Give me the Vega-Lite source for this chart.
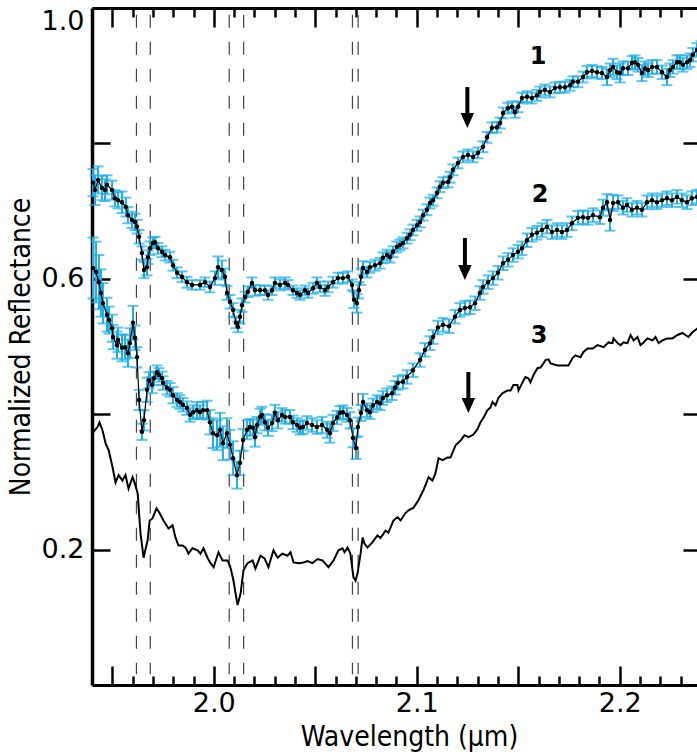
{
  "$schema": "https://vega.github.io/schema/vega-lite/v6.json",
  "width": 609,
  "height": 677,
  "autosize": {"type": "none"},
  "padding": {"left": 92, "top": 8, "right": 0, "bottom": 70},
  "background": "white",
  "config": {
    "view": {"stroke": null},
    "axis": {
      "labelFont": "DejaVu Sans",
      "titleFont": "DejaVu Sans Condensed, DejaVu Sans",
      "labelColor": "black",
      "titleColor": "black",
      "tickColor": "black",
      "domainColor": "black",
      "grid": false,
      "labelOverlap": false
    }
  },
  "datasets": {
    "s12": [
      {"s":1,"w":1.9405,"v":0.742,"e":0.020},{"s":1,"w":1.9415,"v":0.731,"e":0.022},{"s":1,"w":1.9430,"v":0.746,"e":0.020},{"s":1,"w":1.9449,"v":0.734,"e":0.018},{"s":1,"w":1.9464,"v":0.731,"e":0.016},{"s":1,"w":1.9474,"v":0.739,"e":0.014},{"s":1,"w":1.9499,"v":0.731,"e":0.014},{"s":1,"w":1.9513,"v":0.719,"e":0.012},{"s":1,"w":1.9528,"v":0.716,"e":0.012},{"s":1,"w":1.9548,"v":0.713,"e":0.016},{"s":1,"w":1.9567,"v":0.706,"e":0.014},{"s":1,"w":1.9577,"v":0.694,"e":0.012},{"s":1,"w":1.9597,"v":0.687,"e":0.012},{"s":1,"w":1.9612,"v":0.684,"e":0.012},{"s":1,"w":1.9622,"v":0.677,"e":0.010},{"s":1,"w":1.9632,"v":0.662,"e":0.010},{"s":1,"w":1.9646,"v":0.638,"e":0.010},{"s":1,"w":1.9656,"v":0.613,"e":0.012},{"s":1,"w":1.9671,"v":0.617,"e":0.012},{"s":1,"w":1.9676,"v":0.632,"e":0.010},{"s":1,"w":1.9686,"v":0.645,"e":0.010},{"s":1,"w":1.9700,"v":0.653,"e":0.008},{"s":1,"w":1.9710,"v":0.654,"e":0.008},{"s":1,"w":1.9725,"v":0.645,"e":0.008},{"s":1,"w":1.9745,"v":0.640,"e":0.008},{"s":1,"w":1.9760,"v":0.635,"e":0.008},{"s":1,"w":1.9784,"v":0.632,"e":0.008},{"s":1,"w":1.9799,"v":0.620,"e":0.008},{"s":1,"w":1.9819,"v":0.609,"e":0.008},{"s":1,"w":1.9843,"v":0.603,"e":0.008},{"s":1,"w":1.9868,"v":0.595,"e":0.008},{"s":1,"w":1.9893,"v":0.591,"e":0.007},{"s":1,"w":1.9932,"v":0.591,"e":0.007},{"s":1,"w":1.9957,"v":0.595,"e":0.007},{"s":1,"w":1.9981,"v":0.588,"e":0.008},{"s":1,"w":2.0006,"v":0.601,"e":0.010},{"s":1,"w":2.0021,"v":0.617,"e":0.016},{"s":1,"w":2.0040,"v":0.613,"e":0.014},{"s":1,"w":2.0055,"v":0.603,"e":0.012},{"s":1,"w":2.0065,"v":0.579,"e":0.010},{"s":1,"w":2.0080,"v":0.566,"e":0.010},{"s":1,"w":2.0095,"v":0.554,"e":0.010},{"s":1,"w":2.0109,"v":0.535,"e":0.008},{"s":1,"w":2.0119,"v":0.529,"e":0.008},{"s":1,"w":2.0129,"v":0.544,"e":0.010},{"s":1,"w":2.0139,"v":0.561,"e":0.010},{"s":1,"w":2.0154,"v":0.573,"e":0.008},{"s":1,"w":2.0168,"v":0.581,"e":0.008},{"s":1,"w":2.0188,"v":0.594,"e":0.008},{"s":1,"w":2.0203,"v":0.583,"e":0.008},{"s":1,"w":2.0228,"v":0.583,"e":0.007},{"s":1,"w":2.0252,"v":0.583,"e":0.007},{"s":1,"w":2.0267,"v":0.576,"e":0.007},{"s":1,"w":2.0287,"v":0.583,"e":0.007},{"s":1,"w":2.0301,"v":0.594,"e":0.008},{"s":1,"w":2.0326,"v":0.591,"e":0.008},{"s":1,"w":2.0351,"v":0.594,"e":0.008},{"s":1,"w":2.0366,"v":0.591,"e":0.007},{"s":1,"w":2.0390,"v":0.583,"e":0.007},{"s":1,"w":2.0410,"v":0.579,"e":0.007},{"s":1,"w":2.0425,"v":0.576,"e":0.007},{"s":1,"w":2.0449,"v":0.583,"e":0.007},{"s":1,"w":2.0464,"v":0.579,"e":0.007},{"s":1,"w":2.0489,"v":0.586,"e":0.008},{"s":1,"w":2.0508,"v":0.594,"e":0.008},{"s":1,"w":2.0523,"v":0.588,"e":0.008},{"s":1,"w":2.0548,"v":0.583,"e":0.008},{"s":1,"w":2.0563,"v":0.588,"e":0.008},{"s":1,"w":2.0587,"v":0.595,"e":0.008},{"s":1,"w":2.0612,"v":0.601,"e":0.008},{"s":1,"w":2.0636,"v":0.601,"e":0.008},{"s":1,"w":2.0661,"v":0.603,"e":0.008},{"s":1,"w":2.0681,"v":0.591,"e":0.008},{"s":1,"w":2.0691,"v":0.569,"e":0.012},{"s":1,"w":2.0705,"v":0.564,"e":0.014},{"s":1,"w":2.0715,"v":0.583,"e":0.012},{"s":1,"w":2.0725,"v":0.603,"e":0.012},{"s":1,"w":2.0735,"v":0.616,"e":0.010},{"s":1,"w":2.0755,"v":0.610,"e":0.008},{"s":1,"w":2.0769,"v":0.617,"e":0.008},{"s":1,"w":2.0794,"v":0.620,"e":0.008},{"s":1,"w":2.0819,"v":0.623,"e":0.008},{"s":1,"w":2.0833,"v":0.631,"e":0.008},{"s":1,"w":2.0853,"v":0.635,"e":0.008},{"s":1,"w":2.0868,"v":0.632,"e":0.008},{"s":1,"w":2.0883,"v":0.640,"e":0.008},{"s":1,"w":2.0902,"v":0.647,"e":0.008},{"s":1,"w":2.0917,"v":0.650,"e":0.008},{"s":1,"w":2.0932,"v":0.653,"e":0.008},{"s":1,"w":2.0952,"v":0.660,"e":0.008},{"s":1,"w":2.0967,"v":0.665,"e":0.008},{"s":1,"w":2.0981,"v":0.672,"e":0.008},{"s":1,"w":2.1001,"v":0.679,"e":0.008},{"s":1,"w":2.1016,"v":0.684,"e":0.008},{"s":1,"w":2.1031,"v":0.694,"e":0.008},{"s":1,"w":2.1050,"v":0.702,"e":0.008},{"s":1,"w":2.1065,"v":0.712,"e":0.008},{"s":1,"w":2.1080,"v":0.716,"e":0.008},{"s":1,"w":2.1100,"v":0.727,"e":0.008},{"s":1,"w":2.1114,"v":0.736,"e":0.008},{"s":1,"w":2.1129,"v":0.742,"e":0.008},{"s":1,"w":2.1154,"v":0.743,"e":0.008},{"s":1,"w":2.1164,"v":0.750,"e":0.008},{"s":1,"w":2.1178,"v":0.761,"e":0.008},{"s":1,"w":2.1203,"v":0.771,"e":0.008},{"s":1,"w":2.1228,"v":0.780,"e":0.008},{"s":1,"w":2.1252,"v":0.783,"e":0.008},{"s":1,"w":2.1277,"v":0.780,"e":0.008},{"s":1,"w":2.1301,"v":0.786,"e":0.008},{"s":1,"w":2.1326,"v":0.795,"e":0.008},{"s":1,"w":2.1346,"v":0.809,"e":0.008},{"s":1,"w":2.1370,"v":0.823,"e":0.008},{"s":1,"w":2.1395,"v":0.824,"e":0.008},{"s":1,"w":2.1410,"v":0.830,"e":0.008},{"s":1,"w":2.1425,"v":0.845,"e":0.008},{"s":1,"w":2.1449,"v":0.852,"e":0.008},{"s":1,"w":2.1469,"v":0.854,"e":0.008},{"s":1,"w":2.1484,"v":0.846,"e":0.008},{"s":1,"w":2.1499,"v":0.854,"e":0.008},{"s":1,"w":2.1518,"v":0.867,"e":0.008},{"s":1,"w":2.1543,"v":0.869,"e":0.008},{"s":1,"w":2.1567,"v":0.867,"e":0.008},{"s":1,"w":2.1592,"v":0.871,"e":0.008},{"s":1,"w":2.1607,"v":0.876,"e":0.008},{"s":1,"w":2.1631,"v":0.879,"e":0.008},{"s":1,"w":2.1656,"v":0.876,"e":0.008},{"s":1,"w":2.1681,"v":0.882,"e":0.008},{"s":1,"w":2.1705,"v":0.883,"e":0.008},{"s":1,"w":2.1730,"v":0.883,"e":0.008},{"s":1,"w":2.1755,"v":0.886,"e":0.008},{"s":1,"w":2.1769,"v":0.891,"e":0.008},{"s":1,"w":2.1794,"v":0.891,"e":0.008},{"s":1,"w":2.1819,"v":0.898,"e":0.008},{"s":1,"w":2.1838,"v":0.905,"e":0.009},{"s":1,"w":2.1863,"v":0.907,"e":0.009},{"s":1,"w":2.1888,"v":0.905,"e":0.009},{"s":1,"w":2.1912,"v":0.904,"e":0.009},{"s":1,"w":2.1937,"v":0.898,"e":0.012},{"s":1,"w":2.1952,"v":0.908,"e":0.010},{"s":1,"w":2.1967,"v":0.913,"e":0.012},{"s":1,"w":2.1986,"v":0.905,"e":0.010},{"s":1,"w":2.2001,"v":0.904,"e":0.014},{"s":1,"w":2.2016,"v":0.911,"e":0.010},{"s":1,"w":2.2040,"v":0.911,"e":0.010},{"s":1,"w":2.2060,"v":0.919,"e":0.010},{"s":1,"w":2.2075,"v":0.920,"e":0.010},{"s":1,"w":2.2090,"v":0.916,"e":0.010},{"s":1,"w":2.2109,"v":0.904,"e":0.012},{"s":1,"w":2.2124,"v":0.911,"e":0.010},{"s":1,"w":2.2139,"v":0.908,"e":0.010},{"s":1,"w":2.2159,"v":0.913,"e":0.010},{"s":1,"w":2.2183,"v":0.913,"e":0.010},{"s":1,"w":2.2208,"v":0.905,"e":0.010},{"s":1,"w":2.2232,"v":0.898,"e":0.012},{"s":1,"w":2.2247,"v":0.908,"e":0.010},{"s":1,"w":2.2262,"v":0.913,"e":0.010},{"s":1,"w":2.2282,"v":0.920,"e":0.010},{"s":1,"w":2.2296,"v":0.920,"e":0.010},{"s":1,"w":2.2311,"v":0.916,"e":0.010},{"s":1,"w":2.2331,"v":0.920,"e":0.010},{"s":1,"w":2.2346,"v":0.923,"e":0.010},{"s":1,"w":2.2360,"v":0.931,"e":0.010},{"s":1,"w":2.2380,"v":0.938,"e":0.010},{"s":1,"w":2.2400,"v":0.941,"e":0.010},
      {"s":2,"w":1.9405,"v":0.616,"e":0.045},{"s":2,"w":1.9420,"v":0.610,"e":0.045},{"s":2,"w":1.9434,"v":0.595,"e":0.040},{"s":2,"w":1.9444,"v":0.579,"e":0.035},{"s":2,"w":1.9454,"v":0.564,"e":0.030},{"s":2,"w":1.9474,"v":0.547,"e":0.025},{"s":2,"w":1.9484,"v":0.539,"e":0.020},{"s":2,"w":1.9499,"v":0.527,"e":0.020},{"s":2,"w":1.9504,"v":0.514,"e":0.018},{"s":2,"w":1.9523,"v":0.502,"e":0.020},{"s":2,"w":1.9528,"v":0.510,"e":0.018},{"s":2,"w":1.9548,"v":0.498,"e":0.020},{"s":2,"w":1.9563,"v":0.499,"e":0.018},{"s":2,"w":1.9577,"v":0.490,"e":0.020},{"s":2,"w":1.9587,"v":0.505,"e":0.022},{"s":2,"w":1.9602,"v":0.535,"e":0.025},{"s":2,"w":1.9612,"v":0.513,"e":0.018},{"s":2,"w":1.9622,"v":0.484,"e":0.015},{"s":2,"w":1.9632,"v":0.421,"e":0.015},{"s":2,"w":1.9646,"v":0.374,"e":0.012},{"s":2,"w":1.9656,"v":0.391,"e":0.015},{"s":2,"w":1.9671,"v":0.436,"e":0.018},{"s":2,"w":1.9681,"v":0.450,"e":0.012},{"s":2,"w":1.9696,"v":0.443,"e":0.012},{"s":2,"w":1.9705,"v":0.453,"e":0.010},{"s":2,"w":1.9720,"v":0.462,"e":0.010},{"s":2,"w":1.9730,"v":0.458,"e":0.010},{"s":2,"w":1.9745,"v":0.453,"e":0.010},{"s":2,"w":1.9750,"v":0.446,"e":0.010},{"s":2,"w":1.9769,"v":0.439,"e":0.010},{"s":2,"w":1.9784,"v":0.436,"e":0.010},{"s":2,"w":1.9799,"v":0.428,"e":0.012},{"s":2,"w":1.9819,"v":0.421,"e":0.010},{"s":2,"w":1.9833,"v":0.418,"e":0.010},{"s":2,"w":1.9848,"v":0.414,"e":0.010},{"s":2,"w":1.9868,"v":0.409,"e":0.010},{"s":2,"w":1.9883,"v":0.399,"e":0.010},{"s":2,"w":1.9898,"v":0.403,"e":0.010},{"s":2,"w":1.9917,"v":0.406,"e":0.012},{"s":2,"w":1.9932,"v":0.403,"e":0.010},{"s":2,"w":1.9947,"v":0.406,"e":0.012},{"s":2,"w":1.9967,"v":0.406,"e":0.014},{"s":2,"w":1.9981,"v":0.388,"e":0.018},{"s":2,"w":1.9996,"v":0.372,"e":0.022},{"s":2,"w":2.0016,"v":0.369,"e":0.022},{"s":2,"w":2.0031,"v":0.377,"e":0.025},{"s":2,"w":2.0045,"v":0.357,"e":0.025},{"s":2,"w":2.0065,"v":0.372,"e":0.022},{"s":2,"w":2.0080,"v":0.355,"e":0.022},{"s":2,"w":2.0095,"v":0.335,"e":0.025},{"s":2,"w":2.0114,"v":0.310,"e":0.020},{"s":2,"w":2.0129,"v":0.328,"e":0.018},{"s":2,"w":2.0144,"v":0.362,"e":0.016},{"s":2,"w":2.0164,"v":0.377,"e":0.014},{"s":2,"w":2.0178,"v":0.381,"e":0.012},{"s":2,"w":2.0193,"v":0.380,"e":0.012},{"s":2,"w":2.0203,"v":0.366,"e":0.014},{"s":2,"w":2.0213,"v":0.384,"e":0.012},{"s":2,"w":2.0228,"v":0.396,"e":0.012},{"s":2,"w":2.0237,"v":0.399,"e":0.012},{"s":2,"w":2.0252,"v":0.388,"e":0.012},{"s":2,"w":2.0267,"v":0.380,"e":0.012},{"s":2,"w":2.0287,"v":0.387,"e":0.012},{"s":2,"w":2.0301,"v":0.402,"e":0.012},{"s":2,"w":2.0316,"v":0.391,"e":0.012},{"s":2,"w":2.0336,"v":0.399,"e":0.010},{"s":2,"w":2.0351,"v":0.396,"e":0.010},{"s":2,"w":2.0375,"v":0.396,"e":0.010},{"s":2,"w":2.0390,"v":0.388,"e":0.010},{"s":2,"w":2.0410,"v":0.384,"e":0.010},{"s":2,"w":2.0425,"v":0.380,"e":0.010},{"s":2,"w":2.0439,"v":0.381,"e":0.010},{"s":2,"w":2.0459,"v":0.387,"e":0.010},{"s":2,"w":2.0484,"v":0.384,"e":0.010},{"s":2,"w":2.0508,"v":0.381,"e":0.010},{"s":2,"w":2.0533,"v":0.384,"e":0.012},{"s":2,"w":2.0558,"v":0.377,"e":0.012},{"s":2,"w":2.0572,"v":0.372,"e":0.014},{"s":2,"w":2.0587,"v":0.387,"e":0.012},{"s":2,"w":2.0607,"v":0.395,"e":0.010},{"s":2,"w":2.0622,"v":0.402,"e":0.010},{"s":2,"w":2.0636,"v":0.403,"e":0.010},{"s":2,"w":2.0656,"v":0.399,"e":0.010},{"s":2,"w":2.0671,"v":0.391,"e":0.012},{"s":2,"w":2.0686,"v":0.365,"e":0.014},{"s":2,"w":2.0700,"v":0.350,"e":0.016},{"s":2,"w":2.0710,"v":0.381,"e":0.014},{"s":2,"w":2.0725,"v":0.402,"e":0.012},{"s":2,"w":2.0735,"v":0.418,"e":0.012},{"s":2,"w":2.0755,"v":0.406,"e":0.010},{"s":2,"w":2.0769,"v":0.403,"e":0.010},{"s":2,"w":2.0784,"v":0.413,"e":0.010},{"s":2,"w":2.0804,"v":0.418,"e":0.010},{"s":2,"w":2.0819,"v":0.416,"e":0.010},{"s":2,"w":2.0833,"v":0.424,"e":0.010},{"s":2,"w":2.0853,"v":0.428,"e":0.010},{"s":2,"w":2.0878,"v":0.431,"e":0.010},{"s":2,"w":2.0893,"v":0.439,"e":0.010},{"s":2,"w":2.0907,"v":0.446,"e":0.010},{"s":2,"w":2.0932,"v":0.448,"e":0.010},{"s":2,"w":2.0952,"v":0.455,"e":0.010},{"s":2,"w":2.0981,"v":0.465,"e":0.010},{"s":2,"w":2.1016,"v":0.480,"e":0.010},{"s":2,"w":2.1040,"v":0.495,"e":0.010},{"s":2,"w":2.1065,"v":0.505,"e":0.010},{"s":2,"w":2.1080,"v":0.514,"e":0.010},{"s":2,"w":2.1104,"v":0.528,"e":0.010},{"s":2,"w":2.1129,"v":0.532,"e":0.010},{"s":2,"w":2.1159,"v":0.530,"e":0.010},{"s":2,"w":2.1188,"v":0.544,"e":0.010},{"s":2,"w":2.1213,"v":0.554,"e":0.010},{"s":2,"w":2.1237,"v":0.557,"e":0.010},{"s":2,"w":2.1262,"v":0.558,"e":0.010},{"s":2,"w":2.1287,"v":0.564,"e":0.010},{"s":2,"w":2.1311,"v":0.579,"e":0.010},{"s":2,"w":2.1326,"v":0.588,"e":0.010},{"s":2,"w":2.1351,"v":0.595,"e":0.010},{"s":2,"w":2.1375,"v":0.601,"e":0.010},{"s":2,"w":2.1400,"v":0.609,"e":0.010},{"s":2,"w":2.1425,"v":0.623,"e":0.010},{"s":2,"w":2.1449,"v":0.628,"e":0.010},{"s":2,"w":2.1474,"v":0.635,"e":0.010},{"s":2,"w":2.1499,"v":0.640,"e":0.010},{"s":2,"w":2.1518,"v":0.645,"e":0.010},{"s":2,"w":2.1543,"v":0.657,"e":0.010},{"s":2,"w":2.1567,"v":0.665,"e":0.010},{"s":2,"w":2.1592,"v":0.668,"e":0.010},{"s":2,"w":2.1617,"v":0.672,"e":0.010},{"s":2,"w":2.1641,"v":0.677,"e":0.010},{"s":2,"w":2.1666,"v":0.669,"e":0.010},{"s":2,"w":2.1691,"v":0.672,"e":0.010},{"s":2,"w":2.1715,"v":0.669,"e":0.010},{"s":2,"w":2.1740,"v":0.672,"e":0.010},{"s":2,"w":2.1764,"v":0.682,"e":0.010},{"s":2,"w":2.1794,"v":0.690,"e":0.010},{"s":2,"w":2.1819,"v":0.691,"e":0.010},{"s":2,"w":2.1843,"v":0.690,"e":0.010},{"s":2,"w":2.1868,"v":0.694,"e":0.010},{"s":2,"w":2.1902,"v":0.691,"e":0.010},{"s":2,"w":2.1917,"v":0.705,"e":0.012},{"s":2,"w":2.1937,"v":0.713,"e":0.012},{"s":2,"w":2.1952,"v":0.687,"e":0.016},{"s":2,"w":2.1967,"v":0.712,"e":0.012},{"s":2,"w":2.1991,"v":0.713,"e":0.010},{"s":2,"w":2.2016,"v":0.705,"e":0.010},{"s":2,"w":2.2035,"v":0.709,"e":0.010},{"s":2,"w":2.2060,"v":0.702,"e":0.010},{"s":2,"w":2.2085,"v":0.705,"e":0.010},{"s":2,"w":2.2109,"v":0.702,"e":0.010},{"s":2,"w":2.2134,"v":0.713,"e":0.010},{"s":2,"w":2.2159,"v":0.716,"e":0.010},{"s":2,"w":2.2183,"v":0.713,"e":0.010},{"s":2,"w":2.2208,"v":0.716,"e":0.010},{"s":2,"w":2.2232,"v":0.719,"e":0.010},{"s":2,"w":2.2257,"v":0.716,"e":0.010},{"s":2,"w":2.2282,"v":0.721,"e":0.010},{"s":2,"w":2.2306,"v":0.716,"e":0.010},{"s":2,"w":2.2331,"v":0.713,"e":0.010},{"s":2,"w":2.2355,"v":0.719,"e":0.010},{"s":2,"w":2.2380,"v":0.721,"e":0.010},{"s":2,"w":2.2400,"v":0.722,"e":0.010}
    ],
    "s3": [
      {"w":1.9402,"v":0.372},{"w":1.9427,"v":0.381},{"w":1.9437,"v":0.388},{"w":1.9452,"v":0.376},{"w":1.9467,"v":0.357},{"w":1.9482,"v":0.347},{"w":1.9501,"v":0.322},{"w":1.9516,"v":0.299},{"w":1.9531,"v":0.310},{"w":1.9550,"v":0.302},{"w":1.9565,"v":0.310},{"w":1.9580,"v":0.290},{"w":1.9600,"v":0.307},{"w":1.9610,"v":0.299},{"w":1.9625,"v":0.283},{"w":1.9639,"v":0.224},{"w":1.9654,"v":0.188},{"w":1.9674,"v":0.214},{"w":1.9684,"v":0.243},{"w":1.9698,"v":0.246},{"w":1.9718,"v":0.261},{"w":1.9733,"v":0.254},{"w":1.9752,"v":0.243},{"w":1.9777,"v":0.231},{"w":1.9797,"v":0.236},{"w":1.9811,"v":0.218},{"w":1.9826,"v":0.206},{"w":1.9846,"v":0.206},{"w":1.9861,"v":0.203},{"w":1.9875,"v":0.194},{"w":1.9895,"v":0.202},{"w":1.9920,"v":0.199},{"w":1.9934,"v":0.194},{"w":1.9949,"v":0.202},{"w":1.9969,"v":0.188},{"w":1.9984,"v":0.180},{"w":1.9999,"v":0.174},{"w":2.0023,"v":0.196},{"w":2.0043,"v":0.184},{"w":2.0068,"v":0.184},{"w":2.0082,"v":0.174},{"w":2.0097,"v":0.154},{"w":2.0117,"v":0.118},{"w":2.0132,"v":0.135},{"w":2.0146,"v":0.169},{"w":2.0166,"v":0.180},{"w":2.0191,"v":0.184},{"w":2.0205,"v":0.172},{"w":2.0230,"v":0.191},{"w":2.0250,"v":0.187},{"w":2.0269,"v":0.174},{"w":2.0294,"v":0.199},{"w":2.0314,"v":0.188},{"w":2.0338,"v":0.194},{"w":2.0363,"v":0.191},{"w":2.0378,"v":0.196},{"w":2.0393,"v":0.181},{"w":2.0417,"v":0.180},{"w":2.0442,"v":0.181},{"w":2.0462,"v":0.183},{"w":2.0486,"v":0.180},{"w":2.0511,"v":0.186},{"w":2.0535,"v":0.184},{"w":2.0565,"v":0.174},{"w":2.0590,"v":0.184},{"w":2.0614,"v":0.199},{"w":2.0634,"v":0.202},{"w":2.0644,"v":0.196},{"w":2.0659,"v":0.203},{"w":2.0673,"v":0.194},{"w":2.0688,"v":0.159},{"w":2.0698,"v":0.154},{"w":2.0708,"v":0.165},{"w":2.0723,"v":0.194},{"w":2.0733,"v":0.218},{"w":2.0742,"v":0.209},{"w":2.0757,"v":0.203},{"w":2.0782,"v":0.211},{"w":2.0806,"v":0.221},{"w":2.0821,"v":0.217},{"w":2.0846,"v":0.228},{"w":2.0860,"v":0.225},{"w":2.0885,"v":0.243},{"w":2.0905,"v":0.248},{"w":2.0920,"v":0.243},{"w":2.0944,"v":0.254},{"w":2.0959,"v":0.258},{"w":2.0984,"v":0.262},{"w":2.1008,"v":0.273},{"w":2.1033,"v":0.288},{"w":2.1058,"v":0.307},{"w":2.1077,"v":0.302},{"w":2.1092,"v":0.313},{"w":2.1107,"v":0.335},{"w":2.1127,"v":0.332},{"w":2.1151,"v":0.336},{"w":2.1166,"v":0.336},{"w":2.1191,"v":0.354},{"w":2.1216,"v":0.361},{"w":2.1235,"v":0.369},{"w":2.1255,"v":0.366},{"w":2.1279,"v":0.370},{"w":2.1299,"v":0.378},{"w":2.1314,"v":0.388},{"w":2.1329,"v":0.395},{"w":2.1348,"v":0.406},{"w":2.1363,"v":0.410},{"w":2.1373,"v":0.418},{"w":2.1388,"v":0.413},{"w":2.1402,"v":0.424},{"w":2.1422,"v":0.431},{"w":2.1447,"v":0.435},{"w":2.1462,"v":0.435},{"w":2.1476,"v":0.443},{"w":2.1496,"v":0.443},{"w":2.1501,"v":0.435},{"w":2.1521,"v":0.447},{"w":2.1535,"v":0.455},{"w":2.1550,"v":0.453},{"w":2.1560,"v":0.447},{"w":2.1575,"v":0.458},{"w":2.1594,"v":0.468},{"w":2.1609,"v":0.469},{"w":2.1624,"v":0.475},{"w":2.1634,"v":0.480},{"w":2.1649,"v":0.481},{"w":2.1659,"v":0.475},{"w":2.1693,"v":0.472},{"w":2.1723,"v":0.472},{"w":2.1747,"v":0.472},{"w":2.1767,"v":0.483},{"w":2.1782,"v":0.487},{"w":2.1806,"v":0.484},{"w":2.1821,"v":0.492},{"w":2.1841,"v":0.497},{"w":2.1866,"v":0.497},{"w":2.1890,"v":0.502},{"w":2.1920,"v":0.499},{"w":2.1944,"v":0.506},{"w":2.1964,"v":0.505},{"w":2.1969,"v":0.512},{"w":2.1989,"v":0.505},{"w":2.2004,"v":0.502},{"w":2.2018,"v":0.506},{"w":2.2038,"v":0.505},{"w":2.2053,"v":0.517},{"w":2.2068,"v":0.509},{"w":2.2087,"v":0.514},{"w":2.2102,"v":0.502},{"w":2.2117,"v":0.506},{"w":2.2136,"v":0.512},{"w":2.2161,"v":0.509},{"w":2.2176,"v":0.514},{"w":2.2191,"v":0.505},{"w":2.2210,"v":0.509},{"w":2.2235,"v":0.512},{"w":2.2259,"v":0.512},{"w":2.2284,"v":0.517},{"w":2.2309,"v":0.520},{"w":2.2323,"v":0.517},{"w":2.2338,"v":0.514},{"w":2.2358,"v":0.521},{"w":2.2383,"v":0.527},{"w":2.2400,"v":0.528}
    ],
    "lines": [{"w":1.9619},{"w":1.9687},{"w":2.0076},{"w":2.0147},{"w":2.0683},{"w":2.0711}],
    "arrows": [{"w":2.1249,"top":0.8833,"hc":0.8338},{"w":2.1237,"top":0.6603,"hc":0.6093},{"w":2.1254,"top":0.4623,"hc":0.4129}],
    "labels": [{"w":2.1597,"v":0.9276,"t":"1"},{"w":2.1607,"v":0.7238,"t":"2"},{"w":2.1602,"v":0.5155,"t":"3"}]
  },
  "layer": [
    {
      "data": {"name": "lines"},
      "mark": {"type": "rule", "color": "#444444", "strokeWidth": 1.2, "strokeDash": [13, 14]},
      "encoding": {
        "x": {"field": "w", "type": "quantitative", "scale": {"domain": [1.94, 2.24], "nice": false, "zero": false},
          "axis": {"orient": "bottom", "values": [1.96,1.97,1.98,1.99,2.01,2.02,2.03,2.04,2.06,2.07,2.08,2.09,2.11,2.12,2.13,2.14,2.16,2.17,2.18,2.19,2.21,2.22,2.23], "tickCount": 60, "tickSize": -9, "tickWidth": 2.5, "tickColor": "#000000", "labels": false, "domain": false, "title": null}},
        "y": {"datum": 0.99, "scale": {"domain": [0, 1], "nice": false, "zero": false}, "axis": null},
        "y2": {"datum": 0.016}
      }
    },
    {
      "data": {"name": "s3"},
      "mark": {"type": "line", "color": "black", "strokeWidth": 2},
      "encoding": {
        "x": {"field": "w", "type": "quantitative", "scale": {"domain": [1.94, 2.24], "nice": false, "zero": false},
          "axis": {"orient": "bottom", "values": [1.95, 2.0, 2.05, 2.1, 2.15, 2.2], "tickCount": 60, "tickSize": -19, "tickWidth": 2.5, "tickColor": "#000000", "domainWidth": 3,
            "labelExpr": "abs(datum.value*10 - round(datum.value*10)) < 0.001 ? format(datum.value, '.1f') : ''",
            "labelFontSize": 27, "labelPadding": 24, "labelFlush": false,
            "title": "Wavelength (µm)", "titleFontSize": 28, "titleFontWeight": "normal", "titlePadding": 7, "titleX": 317}},
        "y": {"field": "v", "type": "quantitative", "scale": {"domain": [0, 1], "nice": false, "zero": false},
          "axis": {"orient": "left", "values": [0.2, 0.4, 0.6, 0.8, 1.0], "tickCount": 20, "tickSize": -18, "tickWidth": 2.5, "domainWidth": 3.5,
            "labelExpr": "round(datum.value*10) % 4 == 2 ? format(datum.value, '.1f') : ''",
            "labelFontSize": 27, "labelPadding": 26, "labelFlush": true,
            "title": "Normalized Reflectance", "titleFontSize": 28, "titleFontWeight": "normal", "titlePadding": 6}}
      }
    },
    {
      "data": {"name": "s12"},
      "mark": {"type": "errorbar", "color": "#1FADE4", "thickness": 2, "ticks": {"size": 11, "thickness": 2, "color": "#1FADE4"}},
      "encoding": {
        "x": {"field": "w", "type": "quantitative", "scale": {"domain": [1.94, 2.24], "nice": false, "zero": false}, "axis": null},
        "y": {"field": "v", "type": "quantitative", "scale": {"domain": [0, 1], "nice": false, "zero": false}, "axis": null},
        "yError": {"field": "e"}
      }
    },
    {
      "data": {"name": "s12"},
      "mark": {"type": "line", "color": "black", "strokeWidth": 1.2},
      "encoding": {
        "x": {"field": "w", "type": "quantitative", "scale": {"domain": [1.94, 2.24], "nice": false, "zero": false},
          "axis": {"orient": "top", "values": [1.95, 2.0, 2.05, 2.1, 2.15, 2.2], "tickCount": 60, "tickSize": -19, "tickWidth": 2.5, "tickColor": "#000000", "domainWidth": 3, "labels": false, "title": null}},
        "y": {"field": "v", "type": "quantitative", "scale": {"domain": [0, 1], "nice": false, "zero": false},
          "axis": {"orient": "right", "values": [0.2, 0.4, 0.6, 0.8], "tickCount": 20, "tickSize": -18, "tickWidth": 2.5, "domainWidth": 3.5, "labels": false, "title": null}},
        "detail": {"field": "s"}
      }
    },
    {
      "data": {"name": "s12"},
      "mark": {"type": "point", "filled": true, "size": 20, "color": "black", "opacity": 1},
      "encoding": {
        "x": {"field": "w", "type": "quantitative", "scale": {"domain": [1.94, 2.24], "nice": false, "zero": false},
          "axis": {"orient": "top", "values": [1.96,1.97,1.98,1.99,2.01,2.02,2.03,2.04,2.06,2.07,2.08,2.09,2.11,2.12,2.13,2.14,2.16,2.17,2.18,2.19,2.21,2.22,2.23], "tickCount": 60, "tickSize": -9, "tickWidth": 2.5, "tickColor": "#000000", "labels": false, "domain": false, "title": null}},
        "y": {"field": "v", "type": "quantitative", "scale": {"domain": [0, 1], "nice": false, "zero": false}, "axis": null}
      }
    },
    {
      "data": {"name": "arrows"},
      "mark": {"type": "rule", "color": "black", "strokeWidth": 4},
      "encoding": {
        "x": {"field": "w", "type": "quantitative", "scale": {"domain": [1.94, 2.24], "nice": false, "zero": false}, "axis": null},
        "y": {"field": "top", "type": "quantitative", "scale": {"domain": [0, 1], "nice": false, "zero": false}, "axis": null},
        "y2": {"field": "hc"}
      }
    },
    {
      "data": {"name": "arrows"},
      "mark": {"type": "point", "shape": "M-0.9,-1L0.9,-1L0,1Z", "size": 225, "filled": true, "color": "black", "opacity": 1, "strokeWidth": 0},
      "encoding": {
        "x": {"field": "w", "type": "quantitative", "scale": {"domain": [1.94, 2.24], "nice": false, "zero": false}, "axis": null},
        "y": {"field": "hc", "type": "quantitative", "scale": {"domain": [0, 1], "nice": false, "zero": false}, "axis": null}
      }
    },
    {
      "data": {"name": "labels"},
      "mark": {"type": "text", "font": "DejaVu Sans", "fontSize": 24, "fontWeight": "bold", "color": "black", "align": "center", "baseline": "middle"},
      "encoding": {
        "x": {"field": "w", "type": "quantitative", "scale": {"domain": [1.94, 2.24], "nice": false, "zero": false}, "axis": null},
        "y": {"field": "v", "type": "quantitative", "scale": {"domain": [0, 1], "nice": false, "zero": false}, "axis": null},
        "text": {"field": "t"}
      }
    }
  ],
  "resolve": {"axis": {"x": "independent", "y": "independent"}}
}
